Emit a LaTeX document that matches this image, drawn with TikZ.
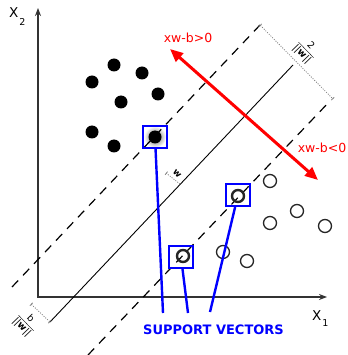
\documentclass[tikz,border=0pt]{standalone}
\usepackage{amsmath}
\usepackage{fontspec}
\setmainfont{DejaVu Sans}
\usetikzlibrary{arrows.meta}
\definecolor{svblue}{RGB}{0,0,255}
\definecolor{sidered}{RGB}{255,0,0}

\begin{document}
\begin{tikzpicture}[x=1pt, y=-1pt,
  dot/.style={circle, fill=black, inner sep=0pt, minimum size=13pt},
  hollow/.style={circle, draw=black!85, line width=1.3pt, inner sep=0pt, minimum size=13pt},
  svhollow/.style={hollow, line width=2.4pt, minimum size=12pt},
  svbox/.style={draw=svblue, line width=2pt, minimum width=24pt, minimum height=22pt, inner sep=0pt},
  axis/.style={line width=1.5pt, black!80, {Stealth[length=8pt,width=6pt]}-{Stealth[length=8pt,width=6pt]}},
  margin/.style={line width=1.2pt, dash pattern=on 9pt off 7pt},
  dim/.style={gray, line width=0.8pt, dash pattern=on 1pt off 1.4pt, {Bar[width=4pt]}-{Bar[width=4pt]}},
  conn/.style={svblue, line width=2.4pt},
  sidearrow/.style={sidered, line width=3pt, {Triangle[length=13pt,width=11pt]}-{Triangle[length=13pt,width=11pt]}},
  side/.style={sidered, font=\fontsize{12.5}{14}\selectfont},
  axlabel/.style={inner sep=0pt, anchor=base west, font=\fontsize{13.5}{14}\selectfont},
  dimlabel/.style={font=\fontsize{9.5}{10}\selectfont, rotate=-46, inner sep=0.5pt}]
  \useasboundingbox (0,0) rectangle (347,355);

  \coordinate (o) at (38,297);
  \coordinate (xend) at (327,297);
  \coordinate (yend) at (38,8);
  \draw[axis] (yend) -- (o) -- (xend);
  \node[axlabel] (x1) at (312,320) {X\kern1pt\raisebox{-6pt}{\fontsize{9.5}{10}\selectfont 1}};
  \node[axlabel] (x2) at (9,18) {X\kern1pt\raisebox{-8pt}{\fontsize{9.5}{10}\selectfont 2}};

  \shade[inner color=black!60, outer color=white] (155,137) circle (11);

  \draw[line width=0.9pt] (50,322) -- (293,65);
  \draw[margin] (12,287) -- (260,25);
  \draw[margin] (88,355) -- (330,101);

  \coordinate (m1) at (260,25);
  \coordinate (m2) at (333,99);
  \draw[dim] (m1) -- (m2);
  \node[dimlabel] (mlab) at (306,50) {$\dfrac{\text{2}}{\text{||\textbf{w}||}}$};
  \coordinate (b1) at (31,304);
  \coordinate (b2) at (50,322);
  \draw[dim] (b1) -- (b2);
  \node[dimlabel] (blab) at (26,323) {$\dfrac{\text{b}}{\text{||\textbf{w}||}}$};
  \coordinate (wfoot) at (180,184);
  \coordinate (wtip) at (166,173);
  \draw[dim, -{Bar[width=4pt]}] (wfoot) -- (wtip);
  \node[dimlabel, font=\bfseries\fontsize{9}{10}\selectfont] (wlab) at (177,174) {w};

  \node[dot] (d1) at (92,82) {};
  \node[dot] (d2) at (114,65) {};
  \node[dot] (d3) at (142,73) {};
  \node[dot] (d4) at (158,94) {};
  \node[dot] (d5) at (121,102) {};
  \node[dot] (d6) at (92,132) {};
  \node[dot] (d7) at (114,146) {};
  \node[dot] (ds) at (155,137) {};

  \node[hollow] (c1) at (270,181) {};
  \node[hollow] (c2) at (297,211) {};
  \node[hollow] (c3) at (270,223) {};
  \node[hollow] (c4) at (325,226) {};
  \node[hollow] (c5) at (223,252) {};
  \node[hollow] (c6) at (247,261) {};
  \node[svhollow] (cs1) at (238,196) {};
  \node[svhollow] (cs2) at (183,256) {};

  \node[svbox] (sv1) at (155,137) {};
  \node[svbox] (sv2) at (181,257) {};
  \node[svbox] (sv3) at (238,195) {};

  \node[side] (pos) at (188,38) {xw-b>0};
  \node[side] (neg) at (322,148) {xw-b<0};
  \coordinate (up) at (170,49);
  \coordinate (down) at (318,180);
  \draw[sidearrow] (up) -- (down);

  \node[text=svblue, font=\bfseries\fontsize{13}{15}\selectfont] (svlab) at (213.5,330) {SUPPORT VECTORS};
  \coordinate (e1) at (163,313);
  \coordinate (e2) at (188,313);
  \coordinate (e3) at (210,312);
  \draw[conn] (sv1) -- (e1);
  \draw[conn] (sv2) -- (e2);
  \draw[conn] (sv3) -- (e3);
\end{tikzpicture}
\end{document}
